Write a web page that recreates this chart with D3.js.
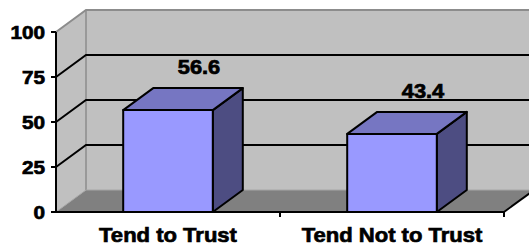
<!DOCTYPE html>
<html>
<head>
<meta charset="utf-8">
<script src="https://cdn.jsdelivr.net/npm/d3@7"></script>
<style>
  html, body { margin: 0; padding: 0; background: #fff; }
  svg text { font-family: "Liberation Sans", Arial, sans-serif; font-weight: 700; stroke: #000; stroke-width: 0.7px; }
</style>
</head>
<body>
<div id="chart"></div>
<script>
// chart data
const categories = ["Tend to Trust", "Tend Not to Trust"];
const values = [56.6, 43.4];
const yTicks = [0, 25, 50, 75, 100];

const width = 529;
const height = 248;
const depthX = 30;   // 3d depth offset
const depthY = -22;

const svg = d3.select('#chart').append('svg')
    .attr('width', width)
    .attr('height', height);

const x = d3.scaleBand()
    .domain(categories)
    .range([56, 504])
    .paddingInner(0.6)
    .paddingOuter(0.3);

const y = d3.scaleLinear()
    .domain([0, 100])
    .range([212, 32]);

const x0 = x.range()[0];
const x1 = x.range()[1];
const y0 = y(0);
const yTop = y(100);

// back wall
svg.append('rect')
    .attr('x', x0 + depthX)
    .attr('y', yTop + depthY)
    .attr('width', width - (x0 + depthX) + 10)
    .attr('height', y0 - yTop)
    .attr('fill', '#c0c0c0');

// left side wall
svg.append('path')
    .attr('d', `M${x0},${yTop} L${x0 + depthX},${yTop + depthY} L${x0 + depthX},${y0 + depthY} L${x0},${y0} Z`)
    .attr('fill', '#c0c0c0');

// floor
svg.append('path')
    .attr('d', `M${x0},${y0} L${x0 + depthX},${y0 + depthY} L${x1 + depthX},${y0 + depthY} L${x1},${y0} Z`)
    .attr('fill', '#808080');

// wall edges
svg.append('path')
    .attr('d', `M${x0},${yTop} L${x0 + depthX},${yTop + depthY} L${width + 5},${yTop + depthY}`)
    .attr('fill', 'none')
    .attr('stroke', '#8c8c8c')
    .attr('stroke-width', 2);
svg.append('line')
    .attr('x1', x0 + depthX).attr('y1', yTop + depthY)
    .attr('x2', x0 + depthX).attr('y2', y0 + depthY)
    .attr('stroke', '#8c8c8c')
    .attr('stroke-width', 1.5);
svg.append('path')
    .attr('d', `M${x0},${y0} L${x0 + depthX},${y0 + depthY} L${width + 5},${y0 + depthY}`)
    .attr('fill', 'none')
    .attr('stroke', '#a6a6a6')
    .attr('stroke-width', 1);

// gridlines (side wall + back wall)
svg.selectAll('.grid')
    .data(yTicks.filter(d => d > 0 && d < 100))
    .enter()
    .append('path')
    .attr('class', 'grid')
    .attr('d', d => `M${x0},${y(d)} L${x0 + depthX},${y(d) + depthY} L${width + 5},${y(d) + depthY}`)
    .attr('fill', 'none')
    .attr('stroke', '#000')
    .attr('stroke-width', 2);

// floor right edge
svg.append('line')
    .attr('x1', x1).attr('y1', y0)
    .attr('x2', x1 + depthX).attr('y2', y0 + depthY)
    .attr('stroke', '#000')
    .attr('stroke-width', 2);

// bars
const barData = categories.map((c, i) => ({ cat: c, value: values[i] }));

const bar = svg.selectAll('.bar')
    .data(barData)
    .enter()
    .append('g')
    .attr('class', 'bar')
    .attr('stroke', '#000')
    .attr('stroke-width', 2)
    .attr('stroke-linejoin', 'round');

bar.append('path')  // side
    .attr('d', d => {
        const r = x(d.cat) + x.bandwidth();
        return `M${r},${y(d.value)} L${r + depthX},${y(d.value) + depthY} L${r + depthX},${y0 + depthY} L${r},${y0} Z`;
    })
    .attr('fill', '#4d4d82');

bar.append('path')  // top
    .attr('d', d => {
        const l = x(d.cat), r = l + x.bandwidth(), t = y(d.value);
        return `M${l},${t} L${l + depthX},${t + depthY} L${r + depthX},${t + depthY} L${r},${t} Z`;
    })
    .attr('fill', '#7676c2');

bar.append('rect')  // front
    .attr('x', d => x(d.cat))
    .attr('y', d => y(d.value))
    .attr('width', x.bandwidth())
    .attr('height', d => y0 - y(d.value))
    .attr('fill', '#9999ff');

// value labels
svg.selectAll('.val')
    .data(barData)
    .enter()
    .append('text')
    .attr('class', 'val')
    .attr('transform', d => `translate(${x(d.cat) + x.bandwidth() / 2 + depthX + 1},${y(d.value) + depthY - 14}) scale(1.12,1)`)
    .attr('text-anchor', 'middle')
    .attr('font-size', 19.5)
    .attr('fill', '#000')
    .text(d => d.value.toFixed(1));

// front axes
svg.append('line')
    .attr('x1', x0).attr('y1', yTop)
    .attr('x2', x0).attr('y2', y0)
    .attr('stroke', '#000')
    .attr('stroke-width', 2);
svg.append('line')
    .attr('x1', x0 - 1).attr('y1', y0)
    .attr('x2', x1).attr('y2', y0)
    .attr('stroke', '#000')
    .attr('stroke-width', 2);

// y ticks + labels
svg.selectAll('.ytick')
    .data(yTicks)
    .enter()
    .append('line')
    .attr('x1', x0 - 5).attr('x2', x0)
    .attr('y1', d => y(d)).attr('y2', d => y(d))
    .attr('stroke', '#000')
    .attr('stroke-width', 2);

svg.selectAll('.ylab')
    .data(yTicks)
    .enter()
    .append('text')
    .attr('transform', d => `translate(${x0 - 11},${y(d) + 6.5}) scale(1.12,1)`)
    .attr('text-anchor', 'end')
    .attr('font-size', 18.5)
    .attr('fill', '#000')
    .text(d => d);

// x ticks between categories
const xTickPos = [x0 + (x1 - x0) / 2, x1];
svg.selectAll('.xtick')
    .data(xTickPos)
    .enter()
    .append('line')
    .attr('x1', d => d).attr('x2', d => d)
    .attr('y1', y0).attr('y2', y0 + 5)
    .attr('stroke', '#000')
    .attr('stroke-width', 2);

// category labels
svg.selectAll('.cat')
    .data(categories)
    .enter()
    .append('text')
    .attr('transform', d => `translate(${x(d) + x.bandwidth() / 2},${y0 + 30}) scale(1.05,1)`)
    .attr('text-anchor', 'middle')
    .attr('font-size', 21)
    .attr('fill', '#000')
    .text(d => d);
</script>
</body>
</html>
